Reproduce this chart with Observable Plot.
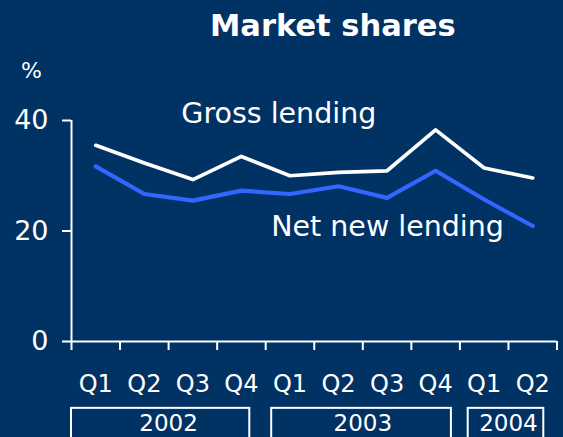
<!DOCTYPE html>
<html><head><meta charset="utf-8">
<script src="https://cdn.jsdelivr.net/npm/d3@7"></script>
<script src="https://cdn.jsdelivr.net/npm/@observablehq/plot@0.6"></script>
<style>
html,body{margin:0;padding:0;background:#003264;}
#chart{position:relative;width:563px;height:437px;overflow:hidden;background:#003264;font-family:"DejaVu Sans",sans-serif;color:#fff;}
#title{position:absolute;left:210px;top:11px;font-size:30.5px;line-height:1;font-weight:bold;white-space:nowrap;}
#unit{position:absolute;left:21px;top:60px;font-size:22px;line-height:1;}
#chart svg{position:absolute;left:0;top:0;}
</style>
</head><body>
<div id="chart"><div id="title">Market shares</div><div id="unit">%</div></div>
<script>
const quarters = ["Q1","Q2","Q3","Q4","Q1","Q2","Q3","Q4","Q1","Q2"];
const yearOf = ["2002","2002","2002","2002","2003","2003","2003","2003","2004","2004"];
const grossLending = [35.5,32.3,29.3,33.5,30.0,30.6,30.9,38.3,31.4,29.6];
const netNewLending = [31.7,26.7,25.5,27.3,26.7,28.1,26.0,30.9,25.7,20.9];
const yTicks = [0,20,40];
const seriesLabels = ["Gross lending","Net new lending"];

// layout (not data)
const labelPos = [{x:3.77,y:41.2},{x:6.01,y:20.8}];
const yearBoxInsets = {"2002":[0,15.9],"2003":[6,8.5],"2004":[8.3,13.2]};

const idx = d3.range(quarters.length);
const years = Array.from(new Set(yearOf));
const yearSpans = years.map(y => {
  const is = idx.filter(i => yearOf[i] === y);
  return {year:y, x1:d3.min(is)-0.5, x2:d3.max(is)+0.5};
});
const grossData = idx.map(i => ({i, v:grossLending[i]}));
const netData = idx.map(i => ({i, v:netNewLending[i]}));
const labels = seriesLabels.map((t,k) => ({t, ...labelPos[k]}));

const WHITE = "#ffffff", BLUE = "#3366ff";
const font = '"DejaVu Sans", sans-serif';

const plot = Plot.plot({
  width:563, height:437,
  marginLeft:71, marginRight:6.5, marginTop:120, marginBottom:96,
  x:{type:"linear", domain:[-0.5,9.5]},
  y:{domain:[0,40]},
  style:{background:"transparent", color:WHITE, fontFamily:font, overflow:"visible"},
  marks:[
    Plot.ruleX([-0.5], {y1:0, y2:40, stroke:WHITE, strokeWidth:2}),
    Plot.ruleY([0], {x1:-0.5, x2:9.5, stroke:WHITE, strokeWidth:2}),
    Plot.axisY({ticks:yTicks, tickSize:9, tickPadding:14, fontSize:27, label:null, stroke:WHITE, strokeWidth:2}),
    Plot.axisX({ticks:d3.range(-0.5,10,1), tickSize:9, tickFormat:()=>"", label:null, stroke:WHITE, strokeWidth:2}),
    Plot.axisX({ticks:idx, tickSize:0, tickPadding:33, tickFormat:i=>quarters[i], fontSize:24, label:null}),
    Plot.line(grossData, {x:"i", y:"v", stroke:WHITE, strokeWidth:3.7}),
    Plot.line(netData, {x:"i", y:"v", stroke:BLUE, strokeWidth:4.2}),
    Plot.text(labels, {x:"x", y:"y", text:"t", fill:WHITE, fontSize:28.5}),
    ...yearSpans.map(s => Plot.rect([s], {x1:"x1", x2:"x2", y1:-12.1, y2:-19, fill:"none", stroke:WHITE, strokeWidth:2,
      insetLeft:yearBoxInsets[s.year][0], insetRight:yearBoxInsets[s.year][1]})),
    Plot.text(yearSpans, {x:d => (d.x1+d.x2)/2, y:-14.9, text:"year", fill:WHITE, fontSize:23})
  ]
});
document.getElementById("chart").appendChild(plot);
</script>
</body></html>
